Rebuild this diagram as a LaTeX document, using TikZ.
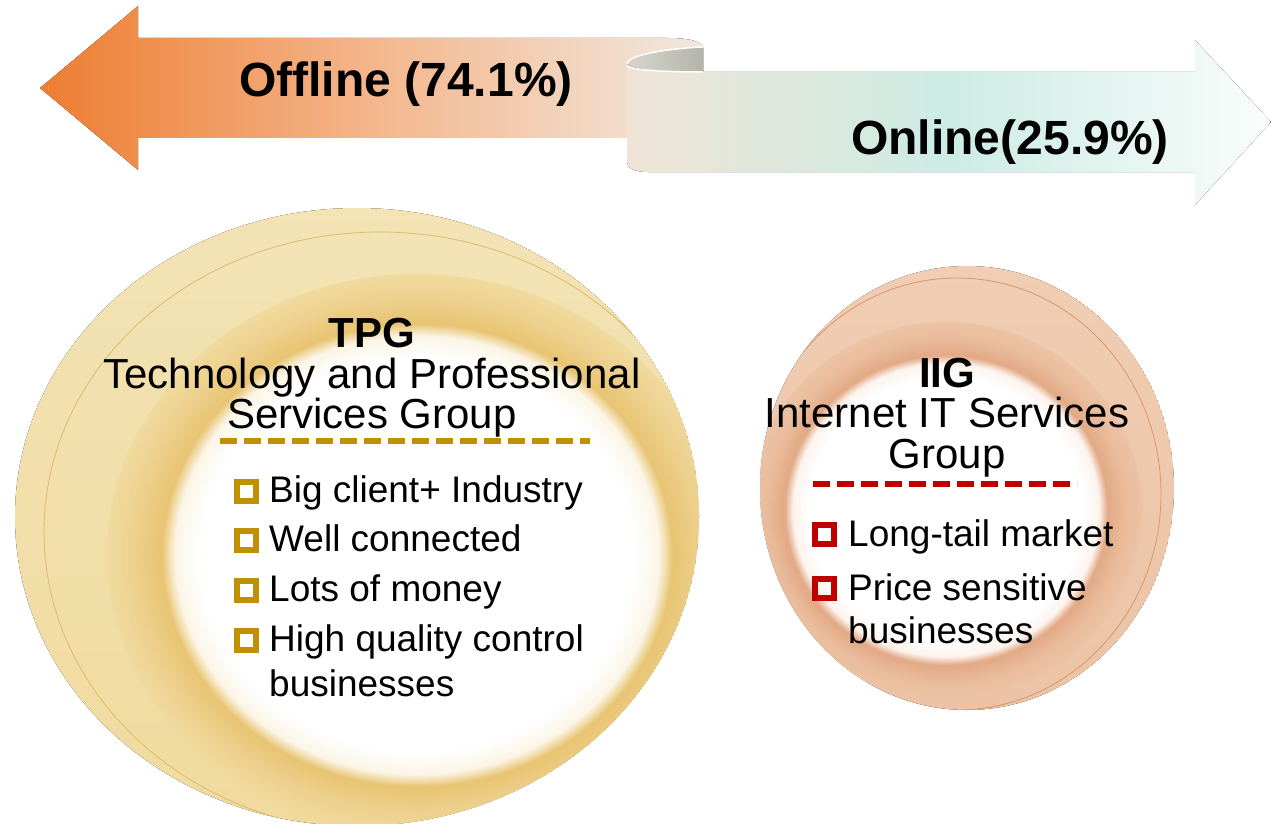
\documentclass[tikz,border=0pt]{standalone}
\usepackage{fontspec}
\setmainfont{Liberation Sans}
\usetikzlibrary{positioning, calc}

% colours of the two ribbons
\definecolor{offorange}{HTML}{ED7D31}
\definecolor{offmid}{HTML}{F4B68C}
\definecolor{offpale}{HTML}{F1E8DE}
\definecolor{onbeige}{HTML}{EFE4D6}
\definecolor{onmint}{HTML}{CCECE4}
\definecolor{onpale}{HTML}{FAFDFC}
\definecolor{curllight}{HTML}{D8D6CE}
\definecolor{curldark}{HTML}{B3B4AA}
% colours of the two rings
\definecolor{tpgtop}{HTML}{F3E3B5}
\definecolor{tpgouter}{HTML}{F0DA9E}
\definecolor{tpgmid}{HTML}{EDD08D}
\definecolor{tpgband}{HTML}{E8C472}
\definecolor{tpgsoft}{HTML}{FBF5E6}
\definecolor{tpgline}{HTML}{DDBB6C}
\definecolor{tpggold}{HTML}{BF9000}
\definecolor{iigtop}{HTML}{F0CDB3}
\definecolor{iigouter}{HTML}{ECC3A5}
\definecolor{iigmid}{HTML}{E9BB9B}
\definecolor{iigband}{HTML}{E2A985}
\definecolor{iigsoft}{HTML}{FCF3ED}
\definecolor{iigline}{HTML}{D8966E}
\definecolor{iigred}{HTML}{C00000}

% soft white centre fading into the ring band
\pgfdeclareradialshading{tpgglow}{\pgfpoint{0bp}{0bp}}{%
  color(0bp)=(white); color(17.5bp)=(white); color(19.5bp)=(tpgsoft);
  color(20.6bp)=(tpgband); color(22.8bp)=(tpgmid); color(25bp)=(tpgouter);
  color(50bp)=(tpgouter)}
\pgfdeclareradialshading{iigglow}{\pgfpoint{0bp}{0bp}}{%
  color(0bp)=(white); color(17.5bp)=(white); color(19.5bp)=(iigsoft);
  color(20.6bp)=(iigband); color(22.8bp)=(iigmid); color(25bp)=(iigouter);
  color(50bp)=(iigouter)}

\begin{document}
\begin{tikzpicture}[
		x=1pt, y=-1pt,
		every node/.style={inner sep=0pt, text=black},
		bandtext/.style={font=\fontsize{48}{58}\selectfont\bfseries, anchor=base},
		headtext/.style={font=\fontsize{42}{50}\selectfont, anchor=base},
		itemtext/.style={font=\fontsize{37}{45}\selectfont, anchor=base west},
		tpgsq/.style={draw=tpggold, line width=6pt, minimum size=19pt},
		iigsq/.style={tpgsq, draw=iigred},
		rule/.style={line width=6.5pt, dash pattern=on 17pt off 7pt}
		]
		\useasboundingbox (0,0) rectangle (1271,824);
		
		% === RIBBON ARROWS ===
		
		% Offline arrow, pointing left
		\fill[left color=offorange, right color=offpale, middle color=offmid]
		(40,88) -- (138,6) -- (138,38) -- (668,38)
		.. controls (690,38) and (703,42) .. (703,48)
		-- (703,138) -- (138,138) -- (138,170) -- cycle;
		
		% inside of the curl
		\fill[left color=curllight, right color=curldark]
		(627,64) .. controls (627,54) and (675,48) .. (703,47)
		-- (703,72) .. controls (665,72) and (632,70) .. (627,64) -- cycle;
		\draw[white, line width=1.5pt]
		(627,64) .. controls (627,54) and (675,48) .. (703,47);
		
		% Online arrow, pointing right
		\fill[left color=onbeige, right color=onpale, middle color=onmint]
		(627,64) .. controls (632,70) and (665,72) .. (703,72)
		-- (1195,72) -- (1195,40) -- (1271,122) -- (1195,205) -- (1195,172)
		-- (648,172) .. controls (634,172) and (627,168) .. (627,162) -- cycle;
		\draw[white, line width=1.5pt]
		(627,66) .. controls (632,70) and (665,72) .. (703,72);
		
		\node[bandtext] (offline) at (406,97) {Offline (74.1\%)};
		\node[bandtext] (online) at (1010,154) {Online(25.9\%)};
		
		% === TPG RING ===
		\begin{scope}
			\clip (357,517) ellipse [x radius=342, y radius=309];
			\fill[top color=tpgtop, bottom color=tpgouter]
			(357,517) ellipse [x radius=342, y radius=309];
			\draw[tpgline, line width=0.8pt]
			(380,532) ellipse [x radius=336, y radius=300];
			\shade[shading=tpgglow] (417,555) ellipse [x radius=310, y radius=281];
		\end{scope}
		
		% === IIG RING ===
		\begin{scope}
			\clip (967,488) ellipse [x radius=207, y radius=222];
			\fill[top color=iigtop, bottom color=iigouter]
			(967,488) ellipse [x radius=207, y radius=222];
			\draw[iigline, line width=0.8pt]
			(957,494) ellipse [x radius=204, y radius=216];
			\shade[shading=iigglow] (946,510) ellipse [x radius=196, y radius=188];
		\end{scope}
		
		% === TPG TEXT ===
		\node[headtext, font=\fontsize{42}{50}\selectfont\bfseries] (tpg) at (372,347) {TPG};
		\node[headtext] (tpgname1) at (372,388) {Technology and Professional};
		\node[headtext] (tpgname2) at (372,428) {Services Group};
		\coordinate (tpgruleL) at (220,441);
		\coordinate (tpgruleR) at (590,441);
		\draw[rule, tpggold] (tpgruleL) -- (tpgruleR);
		
		\node[itemtext] (tpg1) at (269,502) {Big client+ Industry};
		\node[itemtext] (tpg2) at (269,551) {Well connected};
		\node[itemtext] (tpg3) at (269,601) {Lots of money};
		\node[itemtext] (tpg4) at (269,651) {High quality control};
		\node[itemtext] (tpg4b) at (269,696) {businesses};
		\foreach \i in {1,...,4}
		\node[tpgsq] (tpgsq\i) at ($(tpg\i.base west)+(-23,-11)$) {};
		
		% === IIG TEXT ===
		\node[headtext, font=\fontsize{42}{50}\selectfont\bfseries] (iig) at (947,387) {IIG};
		\node[headtext] (iigname1) at (947,427) {Internet IT Services};
		\node[headtext] (iigname2) at (947,468) {Group};
		\coordinate (iigruleL) at (813,484);
		\coordinate (iigruleR) at (1077,484);
		\draw[rule, iigred] (iigruleL) -- (iigruleR);
		
		\node[itemtext] (iig1) at (848,546) {Long-tail market};
		\node[itemtext] (iig2) at (848,600) {Price sensitive};
		\node[itemtext] (iig2b) at (848,643) {businesses};
		\foreach \i in {1,2}
		\node[iigsq] (iigsq\i) at ($(iig\i.base west)+(-24,-12)$) {};
		
	\end{tikzpicture}
\end{document}
